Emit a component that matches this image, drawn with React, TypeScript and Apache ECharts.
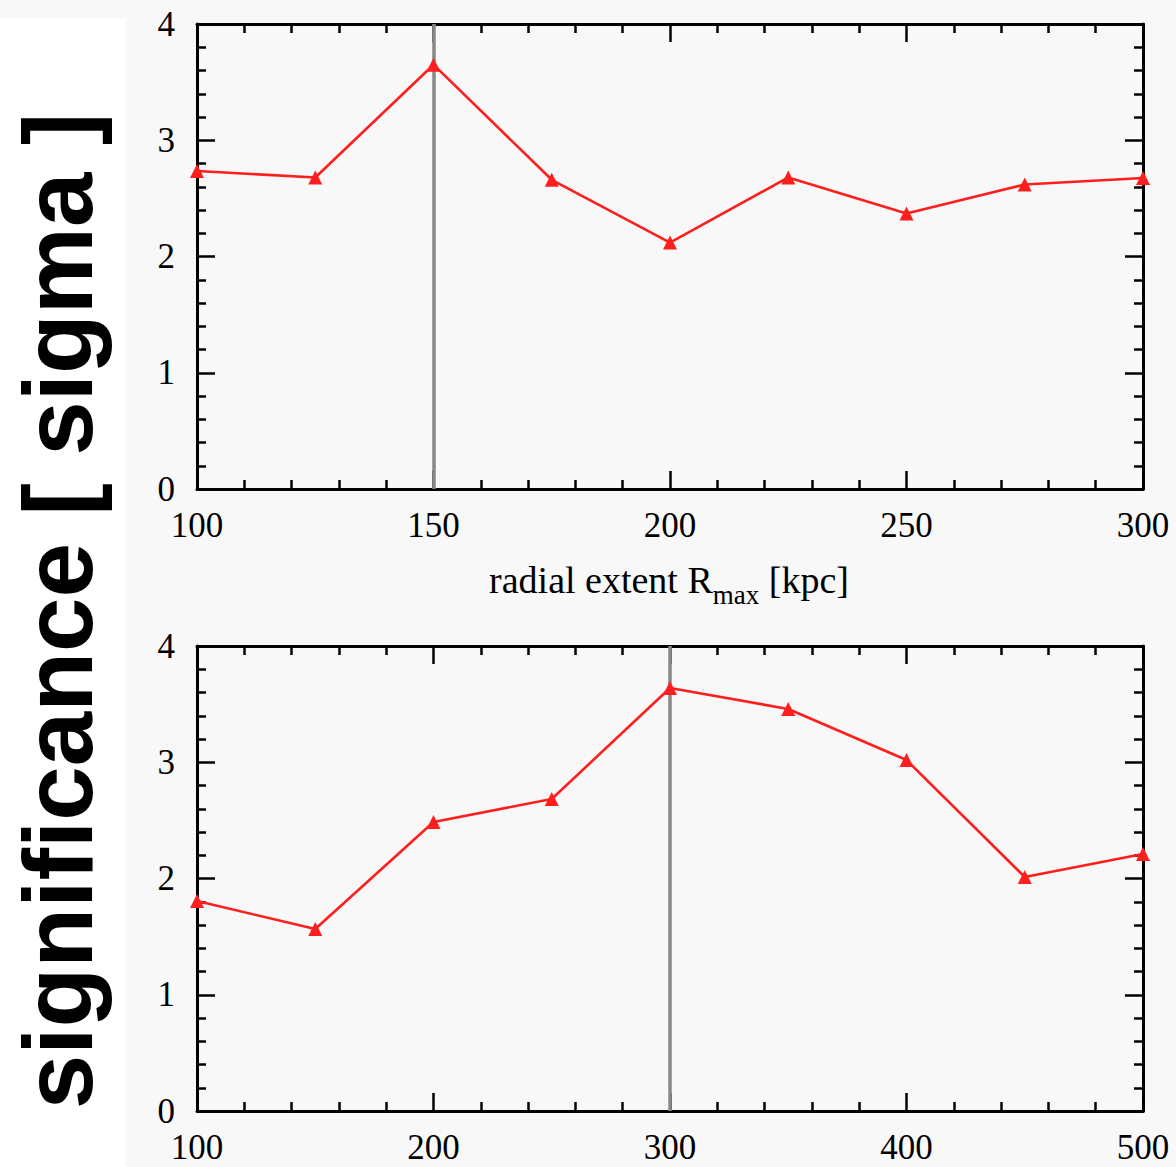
import React, { useEffect, useRef } from "react";
import * as echarts from "echarts";

const topX = [100, 125, 150, 175, 200, 225, 250, 275, 300];
const topY = [2.735, 2.68, 3.65, 2.66, 2.12, 2.68, 2.37, 2.62, 2.675];
const botX = [100, 150, 200, 250, 300, 350, 400, 450, 500];
const botY = [1.806, 1.566, 2.486, 2.684, 3.639, 3.458, 3.019, 2.013, 2.211];
const topMarker = 150;
const botMarker = 300;
const yTitle = "significance [ sigma ]";
const xTitleMain = "radial extent R";
const xTitleSub = "max";
const xTitleEnd = " [kpc]";

const SERIF = "Liberation Serif";
const RED = "#ff1e1e";

function xAx(grid: number, pos: string, min: number, max: number, interval: number, labels: boolean) {
  return {
    type: "value",
    gridIndex: grid,
    position: pos,
    min,
    max,
    interval,
    axisLine: { show: true, onZero: false, lineStyle: { color: "#000", width: 3 } },
    axisTick: { show: true, inside: true, length: 18, lineStyle: { color: "#000", width: 2.5 } },
    minorTick: { show: true, splitNumber: 5, length: 9, lineStyle: { color: "#000", width: 2.5 } },
    splitLine: { show: false },
    axisLabel: { show: labels, fontSize: 35, fontFamily: SERIF, color: "#000", margin: 19 },
  };
}
function yAx(grid: number, pos: string, labels: boolean) {
  return {
    type: "value",
    gridIndex: grid,
    position: pos,
    min: 0,
    max: 4,
    interval: 1,
    axisLine: { show: true, onZero: false, lineStyle: { color: "#000", width: 3 } },
    axisTick: { show: true, inside: true, length: 18, lineStyle: { color: "#000", width: 2.5 } },
    minorTick: { show: true, splitNumber: 5, length: 9, lineStyle: { color: "#000", width: 2.5 } },
    splitLine: { show: false },
    axisLabel: { show: labels, fontSize: 35, fontFamily: SERIF, color: "#000", margin: 22 },
  };
}

function lineSeries(xs: number[], ys: number[], xi: number, yi: number, mark: number) {
  return {
    type: "line",
    xAxisIndex: xi,
    yAxisIndex: yi,
    data: xs.map((x, i) => [x, ys[i]]),
    symbol: "triangle",
    symbolSize: 14,
    lineStyle: { color: RED, width: 2.6 },
    itemStyle: { color: RED },
    z: 5,
    markLine: {
      silent: true,
      symbol: "none",
      label: { show: false },
      lineStyle: { color: "#888", width: 3.5, type: "solid" },
      data: [{ xAxis: mark }],
      z: 3,
    },
  };
}

export default function App() {
  const ref = useRef<HTMLDivElement>(null);
  useEffect(() => {
    if (!ref.current) return;
    const chart = echarts.init(ref.current, null, { renderer: "svg" });
    chart.setOption({
      animation: false,
      backgroundColor: "#f8f8f8",
      grid: [
        { left: 197, top: 24, width: 946, height: 465 },
        { left: 197, top: 646, width: 946, height: 465 },
      ],
      xAxis: [
        xAx(0, "bottom", 100, 300, 50, true),
        xAx(0, "top", 100, 300, 50, false),
        xAx(1, "bottom", 100, 500, 100, true),
        xAx(1, "top", 100, 500, 100, false),
      ],
      yAxis: [yAx(0, "left", true), yAx(0, "right", false), yAx(1, "left", true), yAx(1, "right", false)],
      series: [lineSeries(topX, topY, 0, 0, topMarker), lineSeries(botX, botY, 2, 2, botMarker)],
      graphic: [
        { type: "rect", left: 0, top: 18, z: -10, shape: { width: 126, height: 1149 }, style: { fill: "#ffffff" } },
        {
          type: "text",
          x: 58,
          y: 611,
          rotation: Math.PI / 2,
          style: {
            text: yTitle,
            font: "bold 98px 'Liberation Sans'",
            fill: "#000",
            textAlign: "center",
            textVerticalAlign: "middle",
          },
        },
        {
          type: "text",
          x: 669,
          y: 583,
          style: {
            text: "{a|" + xTitleMain + "}{b|" + xTitleSub + "}{a|" + xTitleEnd + "}",
            textAlign: "center",
            textVerticalAlign: "middle",
            rich: {
              a: { fontSize: 38, fontFamily: SERIF, fill: "#000", lineHeight: 44, verticalAlign: "top" },
              b: { fontSize: 27, fontFamily: SERIF, fill: "#000", lineHeight: 30, verticalAlign: "top", padding: [20, 0, 0, 0] },
            },
          },
        },
      ],
    });
    return () => chart.dispose();
  }, []);
  return <div ref={ref} style={{ position: "fixed", left: 0, top: 0, width: 1176, height: 1167 }} />;
}
